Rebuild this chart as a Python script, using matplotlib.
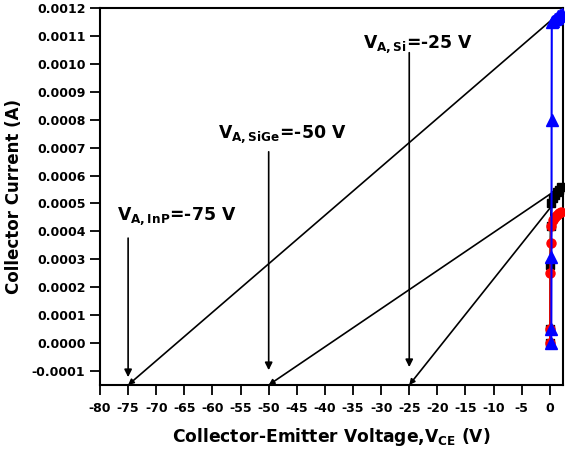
import matplotlib
matplotlib.use("Agg")
import matplotlib.pyplot as plt

plt.rcParams['font.family'] = ['DejaVu Sans']
plt.rcParams['font.weight'] = 'bold'
plt.rcParams['mathtext.fontset'] = 'custom'
plt.rcParams['mathtext.rm'] = 'DejaVu Sans:bold'
plt.rcParams['mathtext.bf'] = 'DejaVu Sans:bold'
plt.rcParams['mathtext.it'] = 'DejaVu Sans:bold'

# ---- data ----
v_si = [0.25, 0.27, 0.3, 0.32, 0.35, 0.6, 0.9, 1.2, 1.5, 1.8, 2.1]
i_si = [0.0, 0.00005, 0.00031, 0.0008, 0.00115, 0.001155, 0.00116, 0.001165, 0.00117, 0.001175, 0.00118]

v_sige = [0.05, 0.07, 0.1, 0.15, 0.3, 0.6, 0.9, 1.2, 1.6, 2.0]
i_sige = [0.0, 0.00005, 0.00028, 0.00042, 0.0005, 0.00052, 0.00053, 0.00054, 0.00055, 0.00056]

v_inp = [0.05, 0.07, 0.1, 0.15, 0.3, 0.6, 0.9, 1.2, 1.6, 2.0]
i_inp = [0.0, 0.00005, 0.00025, 0.00036, 0.00042, 0.00044, 0.00045, 0.00046, 0.000465, 0.00047]

# Early voltages and extrapolation line end points
early_v = [-75, -50, -25]
ext_end_v = [2.2, 2.0, 0.3]
ext_end_i = [0.00119, 0.00056, 0.00049]

labels = [r'V$_{\mathbf{A,InP}}$=-75 V', r'V$_{\mathbf{A,SiGe}}$=-50 V', r'V$_{\mathbf{A,Si}}$=-25 V']
label_x = [-77.0, -59.0, -33.2]
label_y = [0.000441, 0.000735, 0.001057]
arrow_start = [0.000376, 0.000685, 0.00104]
arrow_tip = [-0.000122, -0.000097, -0.000086]

xticks = list(range(-80, 1, 5))
yticks = [-0.0001 + 0.0001 * k for k in range(14)]
ytick_labels = ['%.4f' % t for t in yticks]

ymin, ymax = -0.00015, 0.0012
xmin, xmax = -80, 2.3

fig = plt.figure(figsize=(5.65, 4.54), dpi=100)
ax = fig.add_axes([0.177, 0.152, 0.819, 0.8304])

ax.plot(v_sige, i_sige, color='black', marker='s', ms=6, lw=1.5, clip_on=False, zorder=3)
ax.plot(v_inp, i_inp, color='red', marker='o', ms=6.5, lw=1.5, clip_on=False, zorder=4)
ax.plot(v_si, i_si, color='blue', marker='^', ms=8, lw=1.5, clip_on=False, zorder=5)

for va, ve, ie in zip(early_v, ext_end_v, ext_end_i):
    ax.annotate('', xy=(va, ymin), xytext=(ve, ie),
                arrowprops=dict(arrowstyle='-|>', color='black', lw=1.2,
                                mutation_scale=8, shrinkA=0, shrinkB=0),
                annotation_clip=False)

for lab, lx, ly, va, a0, a1 in zip(labels, label_x, label_y, early_v, arrow_start, arrow_tip):
    ax.text(lx, ly, lab, fontsize=12.4, fontweight='bold', ha='left', va='baseline')
    ax.annotate('', xy=(va, a1), xytext=(va, a0),
                arrowprops=dict(arrowstyle='-|>', color='black', lw=1.2,
                                mutation_scale=11, shrinkA=0, shrinkB=0))

ax.set_xlim(xmin, xmax)
ax.set_ylim(ymin, ymax)
ax.set_xticks(xticks)
ax.set_xticklabels([str(t) for t in xticks])
ax.set_yticks(yticks)
ax.set_yticklabels(ytick_labels)
ax.tick_params(axis='both', direction='out', length=7, width=1.3, labelsize=9)
ax.tick_params(axis='y', pad=3.5)
ax.tick_params(axis='x', pad=5)
for lab in ax.get_xticklabels() + ax.get_yticklabels():
    lab.set_fontweight('bold')
for s in ax.spines.values():
    s.set_linewidth(1.5)

ax.set_xlabel(r'Collector-Emitter Voltage,V$_{\mathbf{CE}}$ (V)', fontsize=12.3, fontweight='bold', labelpad=8)
ax.set_ylabel('Collector Current (A)', fontsize=12, fontweight='bold', labelpad=6)

fig.savefig('out.png', dpi=100)
